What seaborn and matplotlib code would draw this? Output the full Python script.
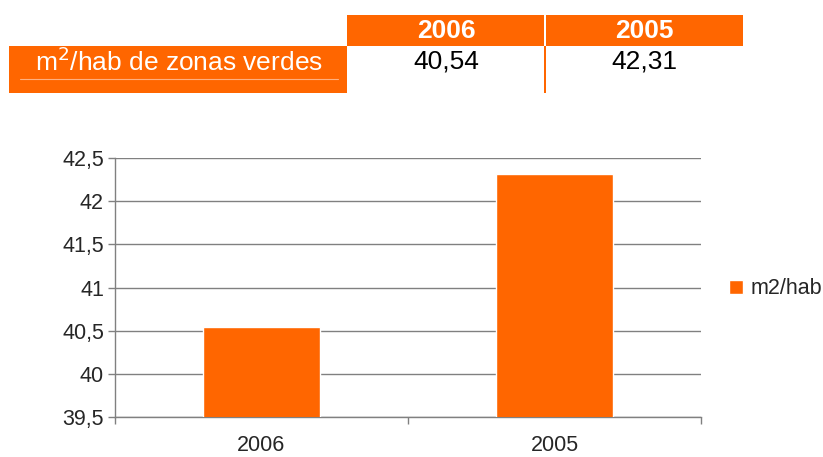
import numpy as np
import pandas as pd
import matplotlib
matplotlib.use("Agg")
import matplotlib.pyplot as plt
from matplotlib.patches import Rectangle
from matplotlib.lines import Line2D
import seaborn as sns

years = ["2006", "2005"]
m2_hab = [40.54, 42.31]
row_label = "m$^2$/hab de zonas verdes"
series_label = "m2/hab"
y_ticks = [39.5, 40, 40.5, 41, 41.5, 42, 42.5]

ORANGE = "#FF6600"
GREY = "#808080"

sns.set_style("white")
plt.rcParams["font.family"] = ["Liberation Sans", "DejaVu Sans"]

W, H = 823, 457
fig = plt.figure(figsize=(W / 100, H / 100), dpi=100)

def fx(px):
    return px / W

def fy(py):
    return 1 - py / H

# --- table on top ---
def rect(x0, y0, x1, y1, color):
    fig.patches.append(Rectangle((fx(x0), fy(y1)), fx(x1) - fx(x0), fy(y0) - fy(y1),
                                 transform=fig.transFigure, color=color, lw=0, zorder=1))

rect(347, 15, 743, 46, ORANGE)
rect(9, 46, 347, 93, ORANGE)
# white divider between header cells
rect(544, 15, 546, 46, "white")
# orange divider between value cells
rect(544, 46, 546, 93, ORANGE)
fig.lines.append(Line2D([fx(20), fx(338)], [fy(79), fy(79)], transform=fig.transFigure,
                        color="#FFB080", lw=0.8))

cell_centers = [446, 644]
for cx, yr, v in zip(cell_centers, years, m2_hab):
    fig.text(fx(cx), fy(31), yr, color="white", fontsize=19, fontweight="bold",
             ha="center", va="center")
    fig.text(fx(cx), fy(62), f"{v:.2f}".replace(".", ","), color="black", fontsize=19,
             ha="center", va="center")
fig.text(fx(179), fy(62), row_label, color="white", fontsize=19, ha="center", va="center")

# --- bar chart ---
ax = fig.add_axes([fx(115), fy(417), fx(701) - fx(115), fy(158) - fy(417)])
df = pd.DataFrame({"year": years, "value": m2_hab})
sns.barplot(data=df, x="year", y="value", color=ORANGE, saturation=1, width=0.4,
            label=series_label, ax=ax, zorder=3)

ax.set_ylim(39.5, 42.5)
ax.set_xlim(-0.5, len(years) - 0.5)
ax.set_yticks(y_ticks)
ax.set_yticklabels([f"{t:g}".replace(".", ",") for t in y_ticks])
ax.set_xlabel("")
ax.set_ylabel("")
ax.yaxis.grid(True, color=GREY, lw=1)
ax.set_axisbelow(True)

for s in ["top", "right"]:
    ax.spines[s].set_visible(False)
for s in ["left", "bottom"]:
    ax.spines[s].set_color(GREY)
    ax.spines[s].set_linewidth(1)

ax.tick_params(axis="y", length=5, color=GREY, width=1, labelsize=15.5, pad=3, left=True)
ax.tick_params(axis="x", which="major", length=0, labelsize=15.5, pad=13)
ax.set_xticks(np.arange(-0.5, len(years)), minor=True)
ax.tick_params(axis="x", which="minor", length=5, color=GREY, width=1, bottom=True)

ax.legend(loc="center left", bbox_to_anchor=(fx(729), fy(289)), bbox_transform=fig.transFigure,
          frameon=False, fontsize=15.5, handlelength=0.65, handleheight=0.65,
          handletextpad=0.35, borderpad=0, borderaxespad=0)

fig.savefig("out.png", dpi=100)
